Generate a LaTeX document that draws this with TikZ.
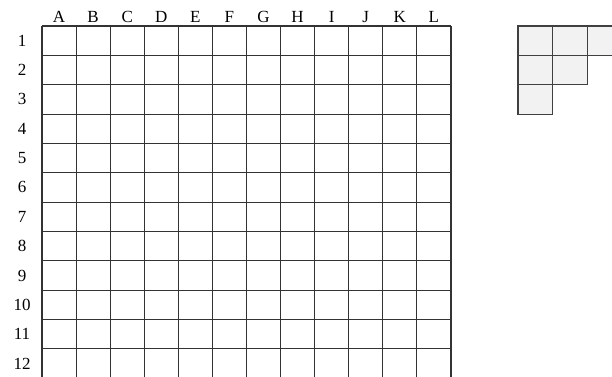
\documentclass[tikz,border=0pt]{standalone}
\usepackage{fontspec}
\setmainfont{Liberation Serif}
\begin{document}
\begin{tikzpicture}[x=1pt,y=-1pt,
  gridline/.style={draw=black!80,line width=1.1pt},
  cellfill/.style={fill=black!5,draw=black!75,line width=1.1pt},
  lbl/.style={font=\fontsize{17}{19}\selectfont,inner sep=0pt}]
\useasboundingbox (0,0) rectangle (612,376);
\clip (0,0) rectangle (612,376);
% main grid
\def\gx{42}\def\gy{26}\def\cw{34.08}\def\ch{29.35}
\foreach \i in {0,...,12}{
  \draw[gridline] ({\gx+\i*\cw},\gy) -- ({\gx+\i*\cw},{\gy+12*\ch});
  \draw[gridline] (\gx,{\gy+\i*\ch}) -- ({\gx+12*\cw},{\gy+\i*\ch});
}
% column labels
\foreach \L [count=\i from 0] in {A,B,C,D,E,F,G,H,I,J,K,L}{
  \node[lbl,anchor=base] (col\L) at ({\gx+(\i+0.5)*\cw},22.5) {\L};
}
% row labels
\foreach \n in {1,...,12}{
  \node[lbl] (row\n) at (22,{\gy+(\n-0.5)*\ch}) {\n};
}
% staircase shape
\def\sx{518}\def\sw{34.6}
\foreach \r/\c in {0/0,0/1,0/2,1/0,1/1,2/0}{
  \path[cellfill] ({\sx+\c*\sw},{\gy+\r*\ch}) rectangle ++(\sw,\ch);
}
\end{tikzpicture}
\end{document}
